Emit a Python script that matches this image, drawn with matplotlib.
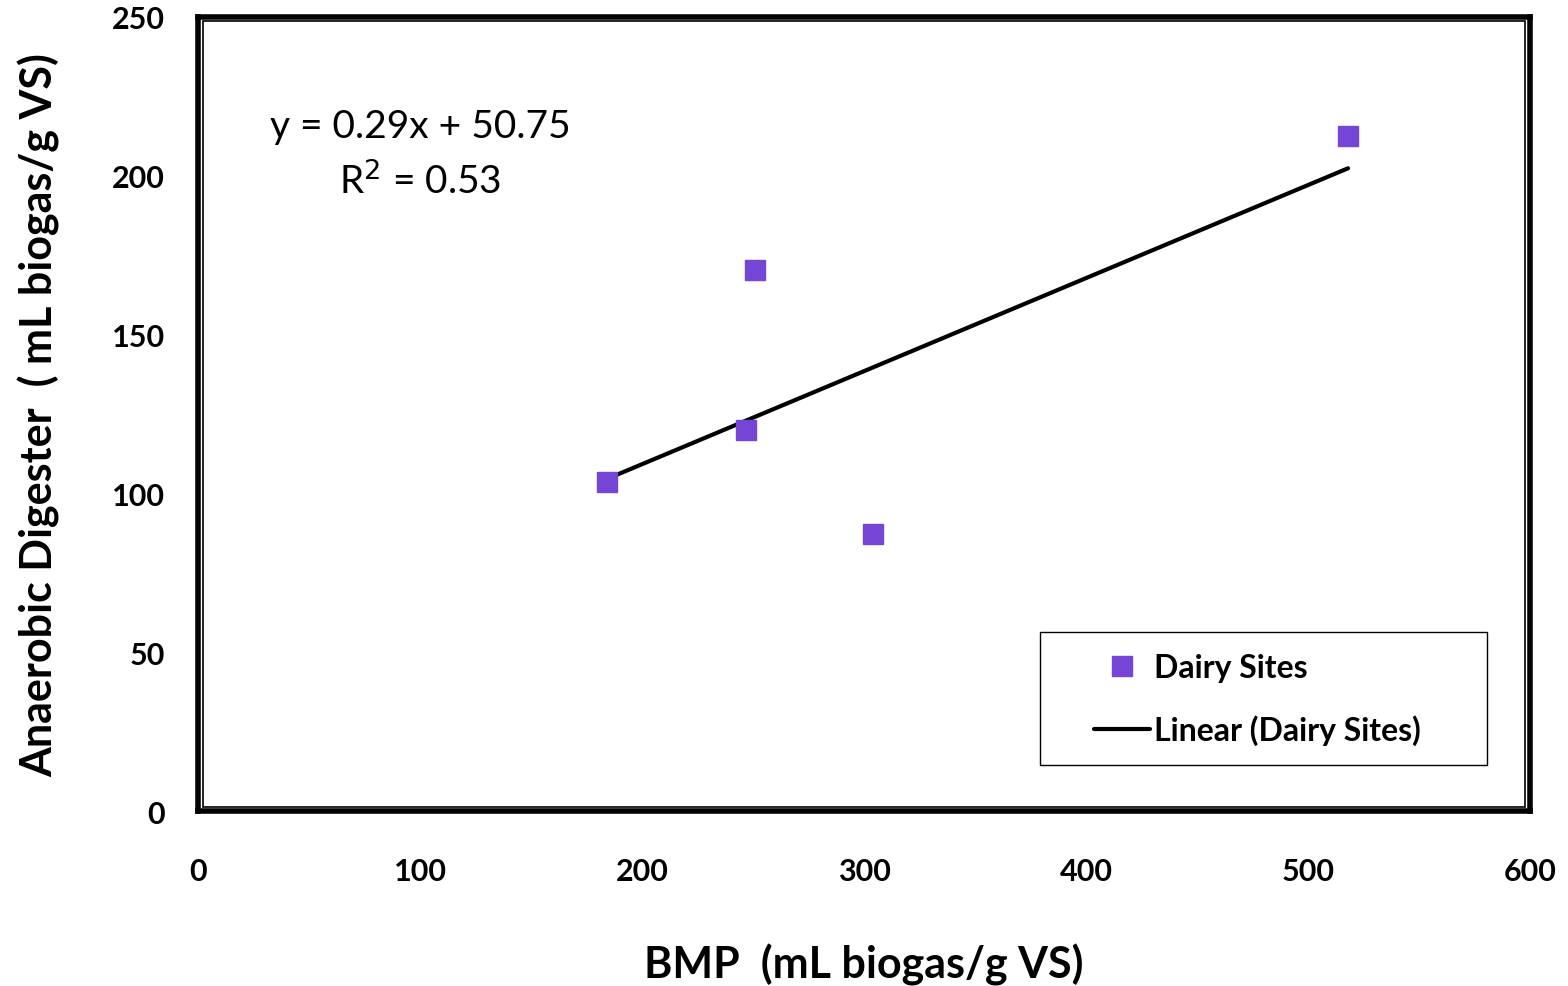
import numpy as np
import matplotlib.pyplot as plt
from matplotlib.patches import Rectangle

plt.rcParams['font.family'] = ['Lato', 'DejaVu Sans']

# BMP vs digester yield (mL biogas/g VS)
bmp = [184, 247, 251, 304, 518]
digester = [103.6, 120, 170.3, 87.2, 212.5]

x_ticks = [0, 100, 200, 300, 400, 500, 600]
y_ticks = [0, 50, 100, 150, 200, 250]

slope, intercept = np.polyfit(bmp, digester, 1)
x_fit = np.array([min(bmp), max(bmp)])
y_fit = slope * x_fit + intercept

fig = plt.figure(figsize=(15.68, 9.87), dpi=100)
ax = fig.add_axes([0.1263, 0.1773, 0.8495, 0.8045])

ax.plot(bmp, digester, 's', color='#7546D6', markersize=14, label='Dairy Sites', zorder=3)
ax.plot(x_fit, y_fit, '-', color='black', linewidth=3, solid_capstyle='round', label='Linear (Dairy Sites)')

ax.set_xlim(0, 600)
ax.set_ylim(0, 250)
ax.set_xticks(x_ticks)
ax.set_yticks(y_ticks)
ax.tick_params(axis='x', length=0, pad=33, labelsize=22)
ax.tick_params(axis='y', length=0, pad=24, labelsize=22)
for lab in ax.get_xticklabels() + ax.get_yticklabels():
    lab.set_fontweight('bold')

for sp in ax.spines.values():
    sp.set_linewidth(4)
# thin inner line of the double border
ax.add_patch(Rectangle((0.0035, 0.005), 0.993, 0.99, transform=ax.transAxes,
                       fill=False, edgecolor='black', linewidth=1.2))

ax.set_xlabel('BMP  (mL biogas/g VS)', fontsize=31, fontweight='bold', labelpad=42)
ax.set_ylabel('Anaerobic Digester  ( mL biogas/g VS)', fontsize=31, fontweight='bold', labelpad=37)

ax.text(0.167, 0.863, 'y = 0.29x + 50.75', transform=ax.transAxes,
        ha='center', va='center', fontsize=28)
ax.text(0.167, 0.795, 'R$^2$ = 0.53', transform=ax.transAxes,
        ha='center', va='center', fontsize=28)

# legend box drawn separately so the padding matches
ax.add_patch(Rectangle((0.632, 0.058), 0.336, 0.1675, transform=ax.transAxes,
                       facecolor='white', edgecolor='black', linewidth=1, zorder=4))
leg = ax.legend(loc='center left', bbox_to_anchor=(0.673, 0.141), fontsize=23,
                frameon=False, borderpad=0, labelspacing=1.0,
                handlelength=1.75, handletextpad=0.1, borderaxespad=0)
leg.set_zorder(5)
for t in leg.get_texts():
    t.set_fontweight('bold')

fig.savefig('out.png', dpi=100)
